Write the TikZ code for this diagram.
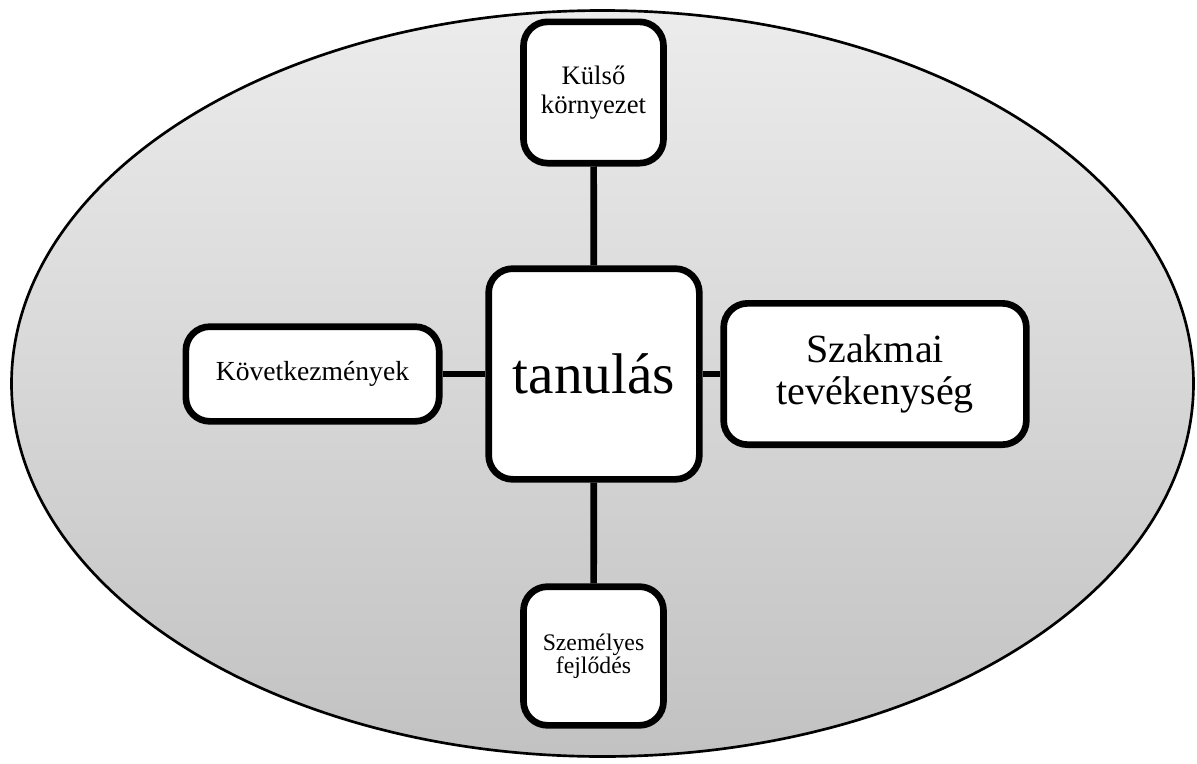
\documentclass[tikz,border=0pt]{standalone}
\usepackage{fontspec}
\setmainfont{Liberation Serif}
\usepackage{tikz}
\usetikzlibrary{positioning}

\begin{document}
\begin{tikzpicture}[x=0.75pt, y=-0.75pt]
\tikzstyle{box} = [draw, line width=5pt, rounded corners=18pt, fill=white, align=center, inner sep=2pt]
\tikzstyle{link} = [line width=5pt]
\useasboundingbox (0,0) rectangle (1197,764);
% background ellipse
\draw[line width=2pt, top color=gray!15, bottom color=gray!48] (602.5,383.5) ellipse (591 and 373);
% centre and the four boxes
\node[box, minimum width=158pt, minimum height=158pt, font=\fontsize{43}{48}\selectfont] (tan) at (594,374) {tanulás};
\node[box, minimum width=105pt, minimum height=106pt, font=\fontsize{20}{22}\selectfont] (kulso) at (593.5,92.5) {Külső\\környezet};
\node[box, minimum width=105pt, minimum height=104pt, font=\fontsize{17.8}{17.5}\selectfont] (szem) at (593.5,656) {Személyes\\fejlődés};
\node[box, minimum width=190pt, minimum height=71pt, font=\fontsize{20.7}{24}\selectfont] (kov) at (312.5,374) {Következmények};
\node[box, minimum width=227pt, minimum height=106pt, font=\fontsize{30}{32}\selectfont] (szak) at (875,374) {Szakmai\\tevékenység};
\foreach \b in {kulso, szem, kov, szak} {
    \draw[link] (tan) -- (\b);
}
\end{tikzpicture}
\end{document}
